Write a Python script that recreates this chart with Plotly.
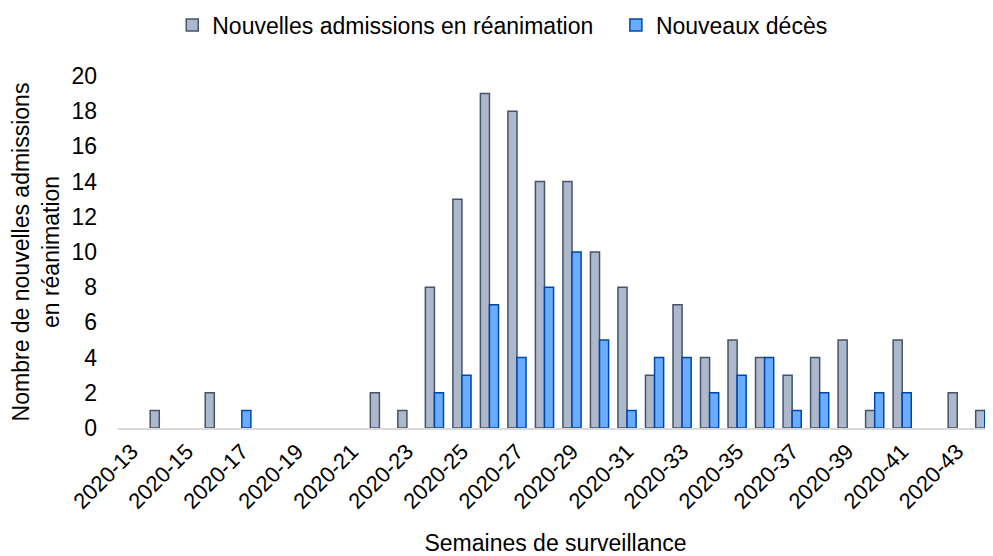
import plotly.graph_objects as go

weeks = [f"2020-{w}" for w in range(13, 45)]
admissions = [0, 1, 0, 2, 0, 0, 0, 0, 0, 2, 1, 8, 13, 19, 18, 14, 14, 10, 8, 3, 7, 4, 5, 4, 3, 4, 5, 1, 5, 0, 2, 1]
deces = [0, 0, 0, 0, 1, 0, 0, 0, 0, 0, 0, 2, 3, 7, 4, 8, 10, 5, 1, 4, 4, 2, 3, 4, 1, 2, 0, 2, 2, 0, 0, 1]
tick_labels = weeks[::2]

font = "Liberation Sans, Arial, sans-serif"


def hide_zero(values):
    return [v if v else None for v in values]


fig = go.Figure()
fig.add_trace(go.Bar(x=weeks, y=hide_zero(admissions), name="Nouvelles admissions en réanimation",
                     marker=dict(color="#ADB9CA", line=dict(color="#44546A", width=1.5)),
                     legend="legend"))
fig.add_trace(go.Bar(x=weeks, y=hide_zero(deces), name="Nouveaux décès",
                     marker=dict(color="#6AADFF", line=dict(color="#0047AB", width=1.5)),
                     legend="legend2"))

legend_common = dict(orientation="h", y=1.145, yanchor="middle", xanchor="left",
                     font=dict(size=23), itemwidth=30, bgcolor="rgba(0,0,0,0)")

# page body has an 8px default margin, so the figure is sized 8px smaller
fig.update_layout(
    width=985, height=548,
    margin=dict(l=110, r=0, t=68, b=128, autoexpand=False),
    paper_bgcolor="white", plot_bgcolor="white",
    barmode="group", bargap=0.34, bargroupgap=0,
    font=dict(family=font, size=23, color="#000000"),
    legend=dict(x=0.062, **legend_common),
    legend2=dict(x=0.569, **legend_common),
    showlegend=True,
)
fig.update_xaxes(
    type="category", range=[-0.5, 31.3],
    tickmode="array", tickvals=tick_labels, ticktext=tick_labels,
    tickangle=-45, tickfont=dict(size=22),
    showline=True, linecolor="#D9D9D9", linewidth=2, showgrid=False, ticks="",
    title=dict(text="Semaines de surveillance", font=dict(size=23), standoff=24),
)
fig.update_yaxes(
    range=[0, 20], dtick=2, showgrid=False, zeroline=False, showline=False, ticks="",
    tickfont=dict(size=23), ticklabelstandoff=20,
    title=dict(text="Nombre de nouvelles admissions<br>en réanimation", font=dict(size=23), standoff=8),
)

fig.write_html("out.html")
